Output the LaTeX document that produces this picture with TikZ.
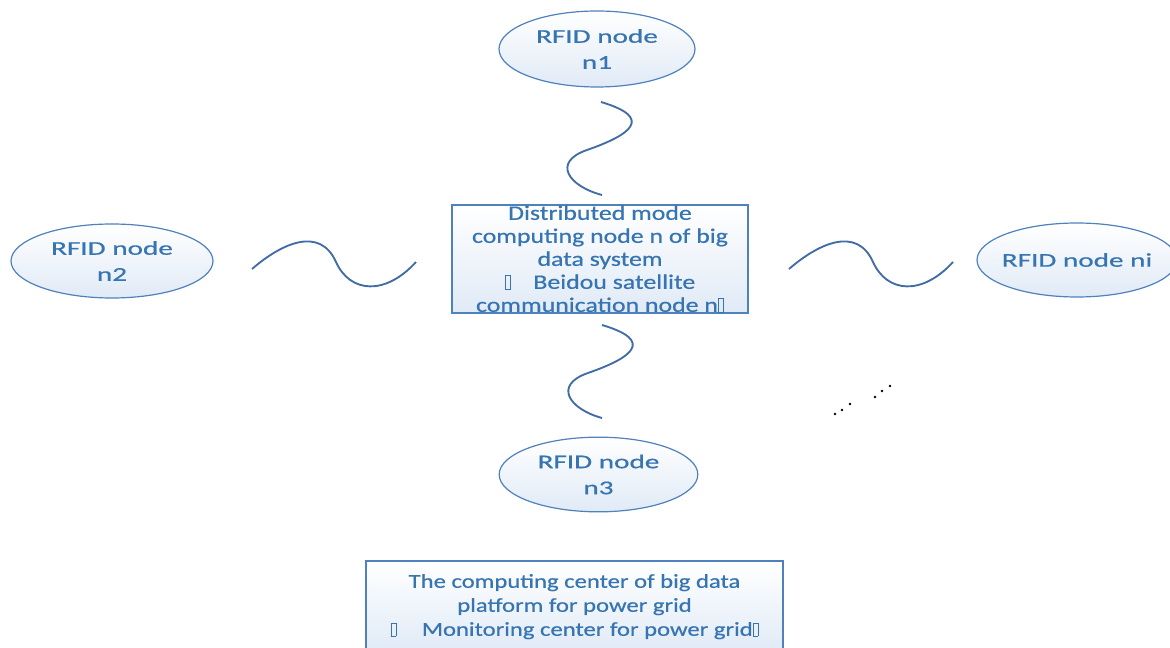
\documentclass[tikz,border=0pt]{standalone}
\usepackage{fontspec}
\setmainfont{Carlito}
\newfontfamily\ellfont[FakeStretch=1.5,FakeBold=0.6]{Carlito}
\newfontfamily\boxfont[FakeStretch=1.25,FakeBold=0.6]{Carlito}
\usetikzlibrary{shapes.geometric}
\definecolor{edgec}{RGB}{79,129,189}
\definecolor{txtc}{RGB}{54,117,178}
\definecolor{fillc}{RGB}{224,234,246}
\definecolor{wavec}{RGB}{65,108,165}
\newcommand{\tofu}{{\setlength\fboxsep{0pt}\setlength\fboxrule{0.5pt}\fbox{\rule{0pt}{0.62em}\hspace{0.22em}}}}
\tikzset{
  ell/.style={ellipse, draw=edgec, line width=0.9pt, top color=white, bottom color=fillc,
    text=txtc, align=center, inner sep=0pt,
    font=\ellfont\fontsize{14.6}{19.5}\selectfont},
  boxnode/.style={rectangle, draw=edgec, line width=0.9pt, top color=white, bottom color=fillc,
    text=txtc, align=center, inner sep=0pt},
  wave/.style={draw=wavec, line width=1.4pt},
  dotmark/.style={circle, fill=black, inner sep=0pt, minimum size=2pt}
}
\begin{document}
\begin{tikzpicture}[x=0.75pt,y=-0.75pt]
\useasboundingbox (0,0) rectangle (1170,648);
\clip (0,0) rectangle (1170,648);

% RFID ellipses
\node[ell, minimum width=147pt, minimum height=57pt] (n1) at (597,49) {RFID node\\n1};
\node[ell, minimum width=151.5pt, minimum height=55.5pt] (n2) at (112,261) {RFID node\\n2};
\node[ell, minimum width=150pt, minimum height=55.5pt, inner xsep=-15pt] (ni) at (1077,260) {RFID node ni};
\node[ell, minimum width=149pt, minimum height=56pt] (n3) at (598.5,474.5) {RFID node\\n3};

% central computing node
\node[boxnode, minimum width=222pt, minimum height=81pt,
  font=\boxfont\fontsize{15.5}{17.25}\selectfont] (dist) at (600,259)
  {Distributed mode\\computing node n of big\\data system\\\tofu\hspace{1.1em}Beidou satellite\\communication node n\tofu};

% bottom computing center
\node[boxnode, minimum width=312.75pt, minimum height=69pt,
  font=\boxfont\fontsize{14.8}{18}\selectfont] (center) at (574.5,607)
  {\raisebox{2pt}{\begin{tabular}{@{}c@{}}The computing center of big data\\platform for power grid\\\tofu\hspace{1.3em}Monitoring center for power grid\tofu\end{tabular}}};

% wave end points
\coordinate (wt1) at (601,102);  \coordinate (wt2) at (602,195);
\coordinate (wb1) at (602,325);  \coordinate (wb2) at (602,418);
\coordinate (wl1) at (252,269);  \coordinate (wl2) at (416,262);
\coordinate (wr1) at (789,269);  \coordinate (wr2) at (953,262);

% wireless links (wavy lines)
\draw[wave] (wt1) .. controls (655,118) and (630,135) .. (587,150)
                 .. controls (552,162) and (568,186) .. (wt2);
\draw[wave] (wb1) .. controls (656,341) and (631,358) .. (588,373)
                 .. controls (553,385) and (569,409) .. (wb2);
\draw[wave] (wl1) .. controls (282,243) and (320,226) .. (336,262)
                 .. controls (350,293) and (385,296) .. (wl2);
\draw[wave] (wr1) .. controls (819,243) and (857,226) .. (873,262)
                 .. controls (887,293) and (922,296) .. (wr2);

% ellipsis dots
\foreach \p [count=\k] in {(835,414),(842,410),(850,404),(875,397),(882,391),(890,386)}
  \node[dotmark] (dot\k) at \p {};
\end{tikzpicture}
\end{document}
